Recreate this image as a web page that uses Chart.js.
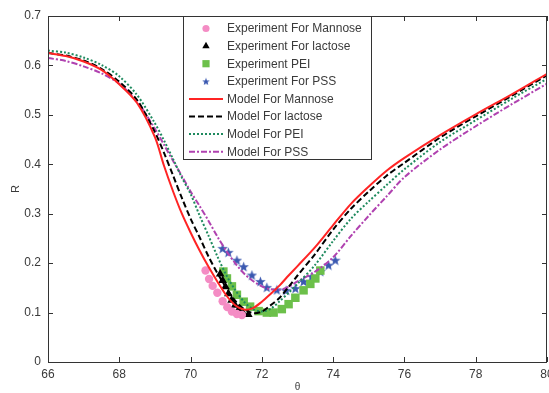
<!DOCTYPE html>
<html>
<head>
<meta charset="utf-8">
<script src="https://cdn.jsdelivr.net/npm/chart.js@4.4.0/dist/chart.umd.min.js"></script>
<style>
  html, body { margin: 0; padding: 0; background: #fff; }
  #wrap { width: 549px; height: 393px; position: relative; }
</style>
</head>
<body>
<div id="wrap"><canvas id="reflChart"></canvas></div>
<script>
// ---- data ----
const xTicks = [66, 68, 70, 72, 74, 76, 78, 80];
const yTicks = [0, 0.1, 0.2, 0.3, 0.4, 0.5, 0.6, 0.7];

// model curves share one theta grid
const modelTheta = [66, 66.5, 67, 67.5, 68, 68.5, 69, 69.25, 69.5, 69.75, 70, 70.25, 70.5, 70.75,
    71, 71.25, 71.5, 71.75, 72, 72.25, 72.5, 72.75, 73, 73.5, 74, 74.5, 75, 75.5, 76, 77, 78, 79, 80];
const modelMannose = [0.625, 0.619, 0.608, 0.591, 0.562, 0.524, 0.455, 0.398, 0.347, 0.301, 0.262, 0.226, 0.193, 0.163,
    0.135, 0.115, 0.106, 0.109, 0.122, 0.138, 0.155, 0.175, 0.194, 0.233, 0.277, 0.32, 0.355, 0.387, 0.413, 0.459, 0.501, 0.541, 0.583];
const modelLactose = [0.625, 0.62, 0.61, 0.593, 0.567, 0.53, 0.465, 0.424, 0.379, 0.333, 0.29, 0.253, 0.214, 0.18,
    0.15, 0.124, 0.107, 0.099, 0.102, 0.115, 0.13, 0.152, 0.175, 0.219, 0.268, 0.31, 0.345, 0.377, 0.403, 0.454, 0.497, 0.538, 0.58];
const modelPEI = [0.63, 0.626, 0.616, 0.601, 0.578, 0.54, 0.483, 0.449, 0.412, 0.374, 0.34, 0.297, 0.256, 0.214,
    0.176, 0.146, 0.122, 0.107, 0.102, 0.108, 0.123, 0.14, 0.158, 0.197, 0.245, 0.29, 0.325, 0.358, 0.39, 0.445, 0.489, 0.532, 0.573];
const modelPSS = [0.615, 0.609, 0.598, 0.584, 0.563, 0.527, 0.472, 0.44, 0.408, 0.377, 0.345, 0.316, 0.286, 0.254,
    0.225, 0.2, 0.179, 0.164, 0.153, 0.147, 0.146, 0.152, 0.163, 0.183, 0.212, 0.255, 0.296, 0.335, 0.374, 0.43, 0.477, 0.521, 0.563];

// experimental points
const expMannoseTheta = [70.42, 70.52, 70.62, 70.75, 70.9, 71.03, 71.16, 71.3, 71.44];
const expMannoseR = [0.185, 0.168, 0.154, 0.14, 0.123, 0.111, 0.102, 0.097, 0.095];
const expLactoseTheta = [70.83, 70.9, 70.98, 71.06, 71.15, 71.25, 71.35, 71.48, 71.62];
const expLactoseR = [0.178, 0.165, 0.152, 0.138, 0.125, 0.115, 0.106, 0.098, 0.096];
const expPEITheta = [70.92, 71.02, 71.16, 71.3, 71.49, 71.67, 71.91, 72.14, 72.33, 72.56, 72.75, 72.94, 73.17, 73.36, 73.5, 73.64];
const expPEIR = [0.183, 0.169, 0.153, 0.136, 0.122, 0.112, 0.103, 0.1, 0.1, 0.107, 0.117, 0.13, 0.145, 0.158, 0.169, 0.185];
const expPSSTheta = [70.9, 71.06, 71.3, 71.49, 71.72, 71.96, 72.14, 72.42, 72.68, 72.94, 73.17, 73.4, 73.64, 73.87, 74.06];
const expPSSR = [0.23, 0.222, 0.206, 0.193, 0.176, 0.163, 0.151, 0.146, 0.145, 0.149, 0.163, 0.173, 0.183, 0.196, 0.206];

const legendLabels = [
    'Experiment For Mannose', 'Experiment For lactose', 'Experiment PEI', 'Experiment For PSS',
    'Model For Mannose', 'Model For lactose', 'Model For PEI', 'Model For PSS'
];

// ---- helpers ----
const toPoints = (xs, ys) => xs.map((x, i) => ({ x: x, y: ys[i] }));

function makeStar(size, color) {
    const c = document.createElement('canvas');
    c.width = size; c.height = size;
    const g = c.getContext('2d');
    const cx = size / 2, cy = size / 2 + 0.5, ro = size / 2, ri = ro * 0.42;
    g.beginPath();
    for (let i = 0; i < 10; i++) {
        const r = i % 2 === 0 ? ro : ri;
        const a = -Math.PI / 2 + i * Math.PI / 5;
        g.lineTo(cx + r * Math.cos(a), cy + r * Math.sin(a));
    }
    g.closePath();
    g.fillStyle = color;
    g.fill();
    return c;
}
const starImg = makeStar(11, '#3a58b0');
const starSmall = makeStar(8, '#3a58b0');

const FONT = "'Liberation Sans', Arial, sans-serif";
const TEXT = '#3a3a3a';

function expSet(label, xs, ys, style, color, radius) {
    return {
        label: label, data: toPoints(xs, ys), showLine: false,
        pointStyle: style, pointRadius: radius, pointHoverRadius: radius,
        backgroundColor: color, borderColor: color, borderWidth: 0, order: 2
    };
}
function modelSet(label, ys, color, dash) {
    return {
        label: label, data: toPoints(modelTheta, ys), showLine: true,
        borderColor: color, backgroundColor: color, borderWidth: 2, borderDash: dash,
        pointRadius: 0, tension: 0.3, order: 1
    };
}

// frame with inward ticks on all four sides
const framePlugin = {
    id: 'frame',
    afterDatasetsDraw(chart) {
        const { ctx, chartArea: a, scales } = chart;
        ctx.save();
        ctx.strokeStyle = '#333';
        ctx.lineWidth = 1;
        ctx.strokeRect(a.left + 0.5, a.top + 0.5, a.right - a.left - 1, a.bottom - a.top);
        ctx.beginPath();
        xTicks.forEach(v => {
            const px = Math.round(scales.x.getPixelForValue(v)) + 0.5;
            ctx.moveTo(px, a.bottom); ctx.lineTo(px, a.bottom - 5);
            ctx.moveTo(px, a.top); ctx.lineTo(px, a.top + 5);
        });
        yTicks.forEach(v => {
            const py = Math.round(scales.y.getPixelForValue(v)) + 0.5;
            ctx.moveTo(a.left, py); ctx.lineTo(a.left + 5, py);
            ctx.moveTo(a.right, py); ctx.lineTo(a.right - 5, py);
        });
        ctx.stroke();
        ctx.restore();
    }
};

// boxed legend inside the plot, top centre
const legendPlugin = {
    id: 'boxLegend',
    afterDraw(chart) {
        const { ctx, chartArea: a } = chart;
        const left = a.left + 135, top = a.top, w = 188, h = 143;
        ctx.save();
        ctx.fillStyle = '#fff';
        ctx.fillRect(left, top, w, h);
        ctx.strokeStyle = '#333';
        ctx.lineWidth = 1;
        ctx.strokeRect(left + 0.5, top + 0.5, w, h);
        ctx.font = '12px ' + FONT;
        ctx.textBaseline = 'middle';
        chart.data.datasets.forEach((ds, i) => {
            const y = top + 12.5 + i * 17.6;
            if (ds.showLine) {
                ctx.strokeStyle = ds.borderColor;
                ctx.lineWidth = 2;
                ctx.setLineDash(ds.borderDash || []);
                ctx.beginPath();
                ctx.moveTo(left + 6, y); ctx.lineTo(left + 40, y);
                ctx.stroke();
                ctx.setLineDash([]);
            } else {
                const isStar = ds.pointStyle === starImg;
                ctx.fillStyle = ds.backgroundColor;
                ctx.strokeStyle = ds.borderColor;
                Chart.helpers.drawPoint(ctx, {
                    pointStyle: isStar ? starSmall : ds.pointStyle,
                    radius: isStar ? 4 : ds.pointRadius * 0.85, rotation: 0, borderWidth: 0
                }, left + 23, y);
            }
            ctx.fillStyle = TEXT;
            ctx.fillText(legendLabels[i], left + 44, y + 0.5);
        });
        ctx.restore();
    }
};

const ctx = document.getElementById('reflChart').getContext('2d');
new Chart(ctx, {
    type: 'scatter',
    data: {
        datasets: [
            expSet(legendLabels[0], expMannoseTheta, expMannoseR, 'circle', '#f48cc4', 4.2),
            expSet(legendLabels[1], expLactoseTheta, expLactoseR, 'triangle', '#000000', 5),
            expSet(legendLabels[2], expPEITheta, expPEIR, 'rect', '#6cc04a', 6),
            expSet(legendLabels[3], expPSSTheta, expPSSR, starImg, '#3a58b0', 5.5),
            modelSet(legendLabels[4], modelMannose, '#ff2424', []),
            modelSet(legendLabels[5], modelLactose, '#000000', [6, 3]),
            modelSet(legendLabels[6], modelPEI, '#1e8a5e', [2, 2]),
            modelSet(legendLabels[7], modelPSS, '#b042b0', [6, 2, 2, 2])
        ]
    },
    options: {
        responsive: true,
        maintainAspectRatio: false,
        animation: false,
        layout: { autoPadding: false, padding: { top: 16, right: 2, left: 0, bottom: 0 } },
        plugins: { legend: { display: false }, tooltip: { enabled: false } },
        scales: {
            x: {
                type: 'linear', min: 66, max: 80,
                afterBuildTicks: s => { s.ticks = xTicks.map(v => ({ value: v })); },
                afterFit: s => { s.height = 31; s.paddingLeft = 0; s.paddingRight = 0; },
                grid: { display: false, drawTicks: false },
                border: { display: false },
                ticks: { padding: 5, color: TEXT, font: { family: FONT, size: 12 }, maxRotation: 0 },
                title: { display: true, text: 'θ', color: TEXT, font: { family: FONT, size: 10 }, padding: { top: 0, bottom: 0 } }
            },
            y: {
                type: 'linear', min: 0, max: 0.7,
                afterBuildTicks: s => { s.ticks = yTicks.map(v => ({ value: v })); },
                afterFit: s => { s.width = 48; },
                grid: { display: false, drawTicks: false },
                border: { display: false },
                ticks: { padding: 7, color: TEXT, font: { family: FONT, size: 12 }, callback: v => String(Math.round(v * 10) / 10) },
                title: { display: true, text: 'R', color: TEXT, font: { family: FONT, size: 11 }, padding: { top: 9, bottom: 0 } }
            }
        }
    },
    plugins: [framePlugin, legendPlugin]
});
</script>
</body>
</html>
